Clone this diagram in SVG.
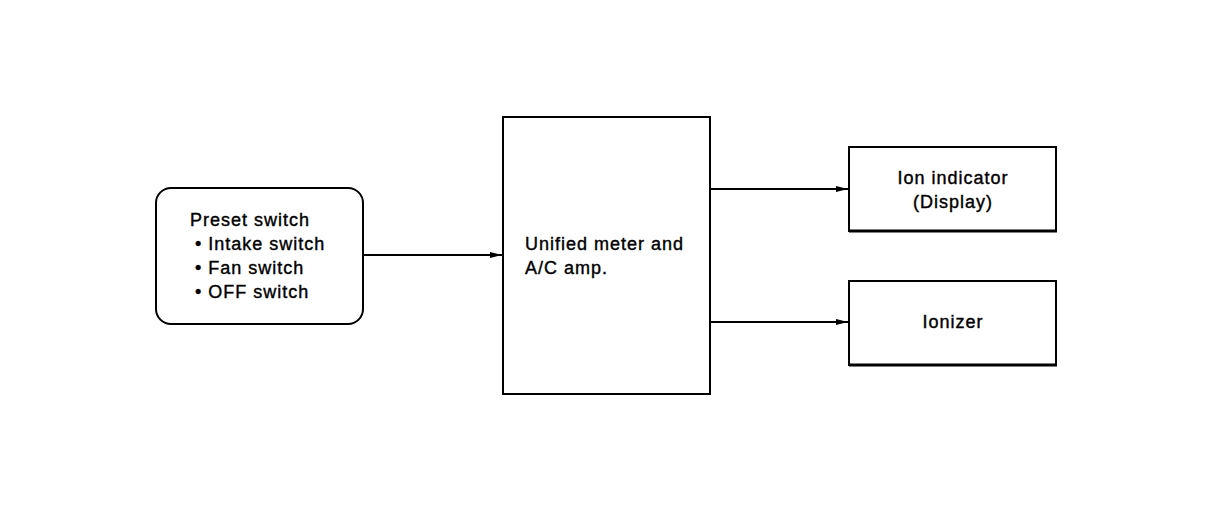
<svg xmlns="http://www.w3.org/2000/svg" width="1216" height="512" viewBox="0 0 1216 512">
<style>
.box{fill:#fff;stroke:#000;stroke-width:2}
.t{font-family:"Liberation Sans",Arial,sans-serif;font-size:18px;letter-spacing:1px;fill:#000;stroke:#000;stroke-width:0.4}
.c{text-anchor:middle}
.conn{stroke:#000;stroke-width:2;fill:none;marker-end:url(#ah)}
</style>
<defs>
<marker id="ah" markerWidth="12" markerHeight="7" refX="12" refY="3.5" orient="auto" markerUnits="userSpaceOnUse">
<path d="M0,0.5 L12,3.5 L0,6.5 Z" fill="#000"/>
</marker>
</defs>
<rect width="1216" height="512" fill="#fff"/>
<g id="connectors">
<line class="conn" x1="364" y1="255" x2="502" y2="255"/>
<line class="conn" x1="711" y1="189" x2="848" y2="189"/>
<line class="conn" x1="711" y1="322" x2="848" y2="322"/>
</g>
<g id="preset">
<rect class="box" x="156" y="188" width="207" height="136" rx="15" ry="15"/>
<text class="t" x="190" y="226">Preset switch</text>
<text class="t" x="195" y="250">• Intake switch</text>
<text class="t" x="195" y="274">• Fan switch</text>
<text class="t" x="195" y="298">• OFF switch</text>
</g>
<g id="amp">
<rect class="box" x="503" y="117" width="207" height="277"/>
<text class="t" x="525" y="250">Unified meter and</text>
<text class="t" x="525" y="274">A/C amp.</text>
</g>
<g id="ion-indicator">
<rect class="box" x="849" y="147" width="207" height="84"/>
<line x1="849" y1="231" x2="1057" y2="231" stroke="#000" stroke-width="3"/>
<text class="t c" x="953" y="184">Ion indicator</text>
<text class="t c" x="953" y="208">(Display)</text>
</g>
<g id="ionizer">
<rect class="box" x="849" y="281" width="207" height="84"/>
<line x1="849" y1="365" x2="1057" y2="365" stroke="#000" stroke-width="3"/>
<text class="t c" x="953" y="328">Ionizer</text>
</g>
</svg>
